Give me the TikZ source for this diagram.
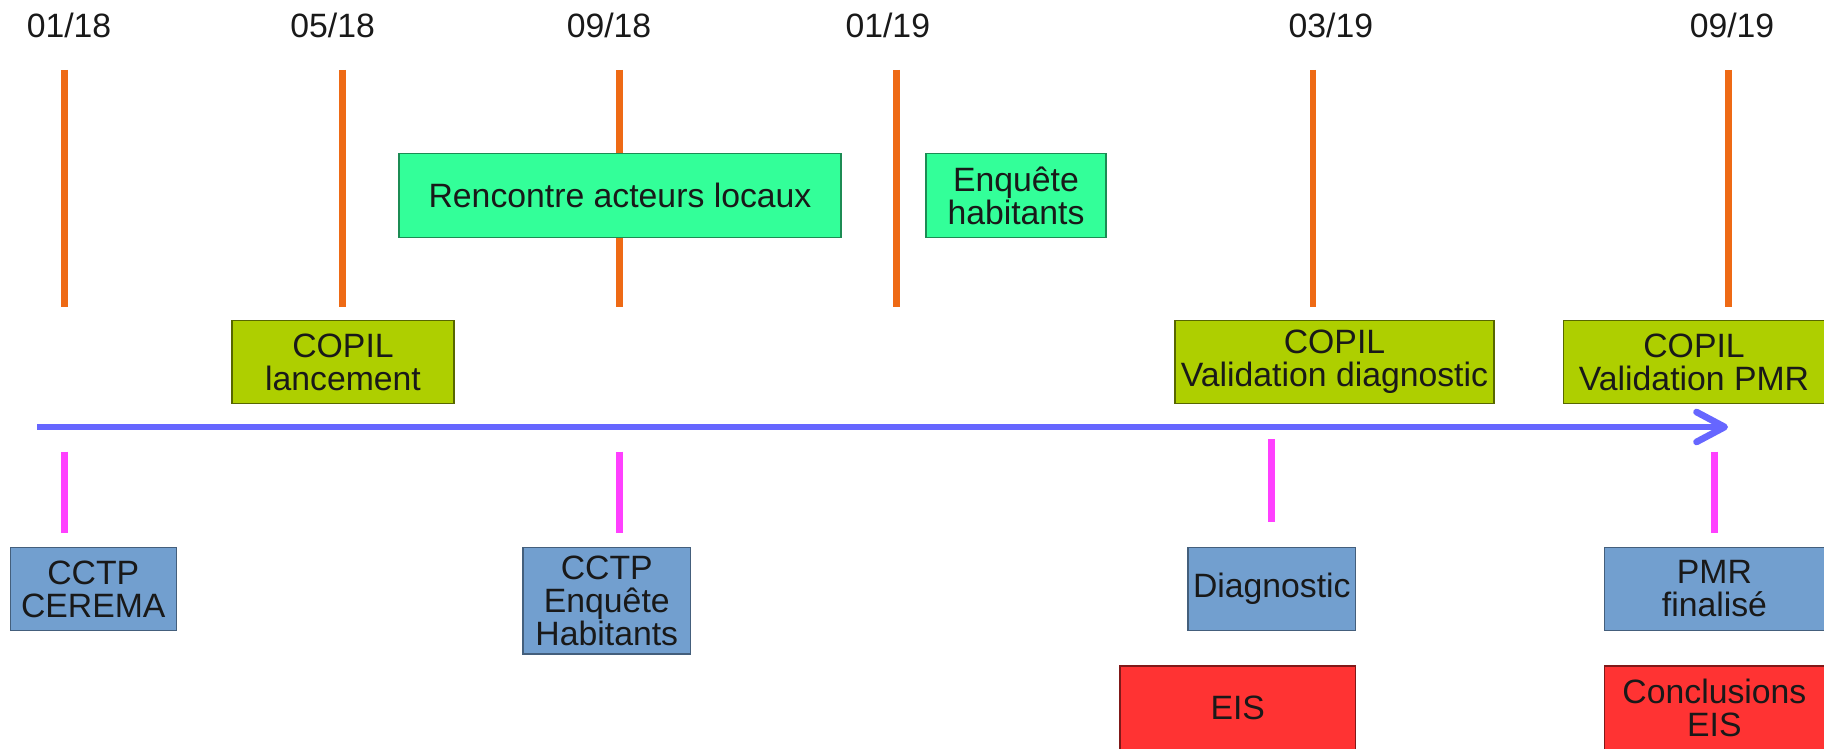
\documentclass[tikz,border=0pt]{standalone}
\usepackage{fontspec}
\setmainfont{Liberation Sans}
\usetikzlibrary{arrows.meta}
\usetikzlibrary{positioning}

\definecolor{tickorange}{HTML}{EE6A15}
\definecolor{axisblue}{HTML}{6666FF}
\definecolor{linkpink}{HTML}{FF40FF}
\definecolor{phasegreen}{HTML}{33FF99}
\definecolor{copilgreen}{HTML}{AECF00}
\definecolor{delivblue}{HTML}{729FCF}
\definecolor{eisred}{HTML}{FF3333}

\begin{document}
\begin{tikzpicture}
      [
      x=0.01cm, y=-0.01cm,
      every node/.style={font=\fontsize{9.6}{9.4}\selectfont, align=center, inner sep=0pt, text=black!90},
      tick/.style={tickorange, line width=1.9pt},
      link/.style={linkpink, line width=2.1pt},
      axis/.style={axisblue, line width=1.9pt, -{Straight Barb[length=8pt, width=8.5pt, round]}},
      box/.style={rectangle, draw, line width=0.4pt, minimum height=0.834cm},
      phase/.style={box, fill=phasegreen, draw=phasegreen!55!black},
      copil/.style={box, fill=copilgreen, draw=copilgreen!50!black},
      deliv/.style={box, fill=delivblue, draw=delivblue!60!black},
      eis/.style={box, fill=eisred, draw=eisred!50!black}
      ]
      \useasboundingbox (0,0) rectangle (1824,749);
      % dates
      \node (d1) at (69,25.6) {01/18};
      \node (d2) at (332.6,25.6) {05/18};
      \node (d3) at (609,25.6) {09/18};
      \node (d4) at (887.8,25.6) {01/19};
      \node (d5) at (1330.8,25.6) {03/19};
      \node (d6) at (1732,25.6) {09/19};
      % orange ticks
      \coordinate (t1a) at (64.7,70);   \coordinate (t1b) at (64.7,307);
      \coordinate (t2a) at (342.4,70);  \coordinate (t2b) at (342.4,307);
      \coordinate (t3a) at (619.6,70);  \coordinate (t3b) at (619.6,307);
      \coordinate (t4a) at (896.4,70);  \coordinate (t4b) at (896.4,307);
      \coordinate (t5a) at (1312.9,70); \coordinate (t5b) at (1312.9,307);
      \coordinate (t6a) at (1728.7,70); \coordinate (t6b) at (1728.7,307);
      \draw [tick] (t1a) -- (t1b);
      \draw [tick] (t2a) -- (t2b);
      \draw [tick] (t3a) -- (t3b);
      \draw [tick] (t4a) -- (t4b);
      \draw [tick] (t5a) -- (t5b);
      \draw [tick] (t6a) -- (t6b);
      % phases
      \node (rencontre) at (620,195.5) [phase, minimum width=4.42cm] {Rencontre acteurs locaux};
      \node (enquete) at (1016,195.5) [phase, minimum width=1.8cm] {Enquête\\habitants};
      % COPIL
      \node (copil1) at (343,362) [copil, minimum width=2.22cm] {COPIL\\lancement};
      \node (copil2) at (1334.5,362) [copil, minimum width=3.19cm] {COPIL\\Validation diagnostic};
      \node (copil3) at (1694,362) [copil, minimum width=2.61cm] {COPIL\\Validation PMR};
      % time axis
      \coordinate (axisstart) at (37,427);
      \coordinate (axisend) at (1728,427);
      \draw [axis] (axisstart) -- (axisend);
      % pink links
      \coordinate (l1a) at (64.3,451.7);  \coordinate (l1b) at (64.3,533.3);
      \coordinate (l2a) at (619.4,451.7); \coordinate (l2b) at (619.4,533.3);
      \coordinate (l3a) at (1271.2,439.3); \coordinate (l3b) at (1271.2,521.7);
      \coordinate (l4a) at (1714.4,451.7); \coordinate (l4b) at (1714.4,533.3);
      \draw [link] (l1a) -- (l1b);
      \draw [link] (l2a) -- (l2b);
      \draw [link] (l3a) -- (l3b);
      \draw [link] (l4a) -- (l4b);
      % deliverables
      \node (cctp1) at (93.3,589) [deliv, minimum width=1.66cm] {CCTP\\CEREMA};
      \node (cctp2) at (606.8,600.7) [deliv, minimum width=1.676cm, minimum height=1.067cm] {CCTP\\Enquête\\Habitants};
      \node (diag) at (1271.8,589) [deliv, minimum width=1.675cm] {Diagnostic};
      \node (pmr) at (1714.4,589) [deliv, minimum width=2.196cm] {PMR\\finalisé};
      % EIS
      \node (eis1) at (1237.7,708) [eis, minimum width=2.355cm, minimum height=0.84cm] {EIS};
      \node (eis2) at (1714.4,708) [eis, minimum width=2.196cm, minimum height=0.84cm] {Conclusions\\EIS};
    \end{tikzpicture}
\end{document}
